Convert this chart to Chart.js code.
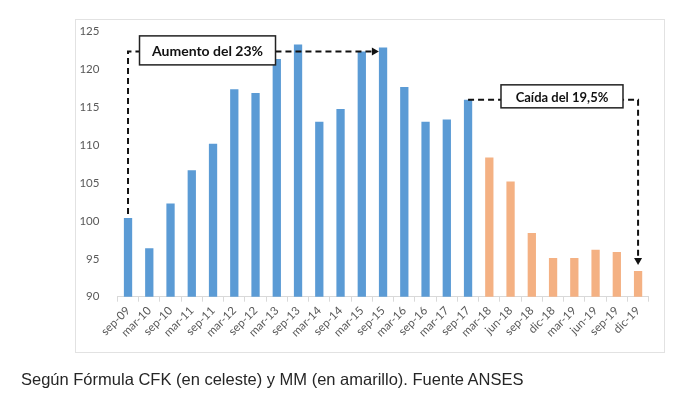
<!DOCTYPE html>
<html>
<head>
<meta charset="utf-8">
<script src="https://cdn.jsdelivr.net/npm/chart.js@4.4.0/dist/chart.umd.min.js"></script>
<style>
  body { margin: 0; background: #fff; }
  #wrap { position: relative; width: 675px; height: 399px; overflow: hidden; }
  #frame { position: absolute; left: 75px; top: 19px; width: 588px; height: 332px; border: 1px solid #e2e2e2; }
  #chart { position: absolute; left: 0; top: 0; }
  #caption { position: absolute; left: 21px; top: 371px; font: 16.5px "Liberation Sans", Arial, sans-serif; line-height: 16.5px; color: #262626; white-space: nowrap; }
</style>
</head>
<body>
<div id="wrap">
  <div id="frame"></div>
  <canvas id="chart" width="675" height="399"></canvas>
  <div id="caption">Según Fórmula CFK (en celeste) y MM (en amarillo). Fuente ANSES</div>
</div>
<script>
// periods on the x axis
var labels = ['sep-09', 'mar-10', 'sep-10', 'mar-11', 'sep-11', 'mar-12', 'sep-12', 'mar-13',
              'sep-13', 'mar-14', 'sep-14', 'mar-15', 'sep-15', 'mar-16', 'sep-16', 'mar-17',
              'sep-17', 'mar-18', 'jun-18', 'sep-18', 'dic-18', 'mar-19', 'jun-19', 'sep-19', 'dic-19'];

// formula CFK (blue) and MM (orange), null where the other one applies
var cfkValues = [100.4, 96.4, 102.3, 106.7, 110.2, 117.4, 116.9, 121.4,
                 123.3, 113.1, 114.8, 122.4, 122.9, 117.7, 113.1, 113.4,
                 116.0, null, null, null, null, null, null, null, null];
var mmValues = [null, null, null, null, null, null, null, null,
                null, null, null, null, null, null, null, null,
                null, 108.4, 105.2, 98.4, 95.1, 95.1, 96.2, 95.9, 93.4];

var yTicks = [90, 95, 100, 105, 110, 115, 120, 125];

// annotation texts
var riseText = 'Aumento del 23%';
var fallText = 'Caída del 19,5%';

//Draws the dashed arrows and the boxed labels
var arrowsPlugin = {
    id: 'arrows',
    afterDatasetsDraw: function(chart){
        var ctx = chart.ctx;
        var xs = chart.scales.x, ys = chart.scales.y;
        var half = chart.getDatasetMeta(0).data[0].width / 2;

        ctx.save();
        ctx.strokeStyle = '#111';
        ctx.fillStyle = '#111';
        ctx.lineWidth = 2;
        ctx.setLineDash([6, 4]);

        //rise: sep-09 -> sep-15
        var x0 = xs.getPixelForValue(0);
        var yLevel = ys.getPixelForValue(122.4);
        var x1 = xs.getPixelForValue(12) - half;
        ctx.beginPath();
        ctx.moveTo(x0, ys.getPixelForValue(cfkValues[0]) - 4);
        ctx.lineTo(x0, yLevel);
        ctx.lineTo(x1 - 6, yLevel);
        ctx.stroke();

        //fall: sep-17 -> dic-19
        var x2 = xs.getPixelForValue(16);
        var y2 = ys.getPixelForValue(cfkValues[16]);
        var x3 = xs.getPixelForValue(24);
        var y3 = ys.getPixelForValue(mmValues[24]) - 6;
        ctx.beginPath();
        ctx.moveTo(x2, y2);
        ctx.lineTo(x3, y2);
        ctx.lineTo(x3, y3 - 6);
        ctx.stroke();

        ctx.setLineDash([]);
        //arrow heads
        ctx.beginPath();
        ctx.moveTo(x1, yLevel);
        ctx.lineTo(x1 - 7, yLevel - 4);
        ctx.lineTo(x1 - 7, yLevel + 4);
        ctx.closePath();
        ctx.fill();
        ctx.beginPath();
        ctx.moveTo(x3, y3);
        ctx.lineTo(x3 - 4, y3 - 7);
        ctx.lineTo(x3 + 4, y3 - 7);
        ctx.closePath();
        ctx.fill();

        //boxes
        drawBox(ctx, riseText, xs.getPixelForValue(3.74), yLevel - 1, 136, 29, 'bold 14px Lato');
        drawBox(ctx, fallText, xs.getPixelForValue(20.42), y2 - 3.5, 122, 23, 'bold 13px Lato');
        ctx.restore();
    }
};

function drawBox(ctx, text, cx, cy, w, h, font){
    ctx.fillStyle = '#fff';
    ctx.fillRect(cx - w / 2, cy - h / 2, w, h);
    ctx.strokeStyle = '#222';
    ctx.lineWidth = 1.5;
    ctx.strokeRect(cx - w / 2, cy - h / 2, w, h);
    ctx.fillStyle = '#111';
    ctx.font = font;
    ctx.textAlign = 'center';
    ctx.textBaseline = 'middle';
    ctx.fillText(text, cx, cy + 1);
}

var chartData = {
    type: 'bar',
    data: {
        labels: labels,
        datasets: [{
            data: cfkValues,
            backgroundColor: '#5b9bd5'
        }, {
            data: mmValues,
            backgroundColor: '#f4b183'
        }]
    },
    options: {
        responsive: false,
        animation: false,
        grouped: false,
        barPercentage: 0.39,
        categoryPercentage: 1,
        layout: {padding: {left: 0, right: 26.3, top: 31.7, bottom: 42.3}},
        plugins: {legend: {display: false}, tooltip: {enabled: false}},
        scales: {
            x: {
                afterFit: function(scale){ scale.height = 60; },
                grid: {drawOnChartArea: false, drawTicks: true, tickLength: 5, color: '#d9d9d9', offset: true},
                border: {display: true, color: '#d9d9d9'},
                ticks: {autoSkip: false, minRotation: 45, maxRotation: 45, padding: 2,
                        color: '#595959', font: {family: 'Lato', size: 11.5}}
            },
            y: {
                min: 90,
                max: 125,
                afterFit: function(scale){ scale.width = 117.4; },
                afterBuildTicks: function(scale){ scale.ticks = yTicks.map(function(v){ return {value: v}; }); },
                grid: {display: false},
                border: {display: false},
                ticks: {padding: 10, color: '#595959', font: {family: 'Lato', size: 11.5}}
            }
        }
    },
    plugins: [arrowsPlugin]
};

var chart = new Chart(document.getElementById('chart'), chartData);
</script>
</body>
</html>
